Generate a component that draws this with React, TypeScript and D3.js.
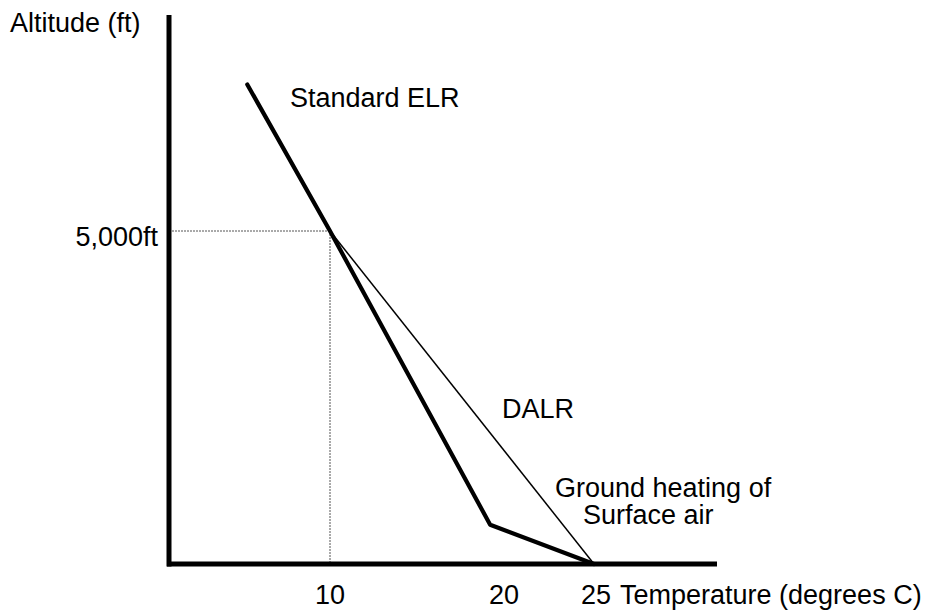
import React from "react";
import * as d3 from "d3";

// ---- data ----
const elrTemps = [5.3, 10, 19.1, 25];
const elrAlts = [7200, 5000, 590, 0];
const dalrTemps = [10, 25];
const dalrAlts = [5000, 0];
const xTickValues = [10, 20, 25];
const xTickLabels = ["10", "20", "25"];
const yTickValues = [5000];
const yTickLabels = ["5,000ft"];
const refTemp = 10;
const refAlt = 5000;
const labelTexts = ["Standard ELR", "DALR", "Ground heating of", "Surface air"];

const W = 926;
const H = 611;
const FONT = "'Liberation Sans', Arial, Helvetica, sans-serif";
const FS = 27;

export default function App() {
  const x = d3.scaleLinear().domain([10, 25]).range([330, 594]);
  const y = d3.scaleLinear().domain([0, 5000]).range([564, 231]);

  const xAxisStart = 167;
  const xAxisEnd = 717;
  const yAxisX = 169;
  const yAxisTop = 15;
  const yAxisBottom = 566.5;

  const line = d3
    .line<[number, number]>()
    .x((d) => x(d[0]))
    .y((d) => y(d[1]));

  const elr = line(elrTemps.map((t, i) => [t, elrAlts[i]] as [number, number])) || "";
  const dalr = line(dalrTemps.map((t, i) => [t, dalrAlts[i]] as [number, number])) || "";

  const labelPos = [
    { x: 290, y: 107 },
    { x: 502, y: 418 },
    { x: 555, y: 497 },
    { x: 583, y: 524 },
  ];

  return (
    <svg
      width={W}
      height={H}
      style={{ position: "absolute", left: 0, top: 0, background: "#fff" }}
      fontFamily={FONT}
      fontSize={FS}
    >
      <rect width={W} height={H} fill="#fff" />
      {/* reference dotted lines */}
      <line
        x1={yAxisX}
        x2={x(refTemp)}
        y1={y(refAlt)}
        y2={y(refAlt)}
        stroke="#555"
        strokeWidth={1}
        strokeDasharray="2,1"
      />
      <line
        x1={x(refTemp)}
        x2={x(refTemp)}
        y1={y(refAlt)}
        y2={y(0)}
        stroke="#555"
        strokeWidth={1}
        strokeDasharray="2,1"
      />
      {/* DALR thin line */}
      <path d={dalr} fill="none" stroke="#000" strokeWidth={1.5} />
      {/* ELR thick line */}
      <path d={elr} fill="none" stroke="#000" strokeWidth={4.2} strokeLinejoin="round" strokeLinecap="round" />
      {/* axes */}
      <line x1={yAxisX} x2={yAxisX} y1={yAxisTop} y2={yAxisBottom} stroke="#000" strokeWidth={5} />
      <line x1={xAxisStart} x2={xAxisEnd} y1={y(0)} y2={y(0)} stroke="#000" strokeWidth={5} />

      {/* axis titles */}
      <text x={10} y={32} fill="#000">Altitude (ft)</text>
      <text x={620} y={604} fill="#000">Temperature (degrees C)</text>

      {/* y tick labels */}
      {yTickValues.map((v, i) => (
        <text key={"y" + i} x={158} y={y(v) + 14.5} textAnchor="end" fill="#000">
          {yTickLabels[i]}
        </text>
      ))}
      {/* x tick labels */}
      {xTickValues.map((v, i) => (
        <text key={"x" + i} x={x(v) + (i === 2 ? 2 : i === 1 ? -2 : 0)} y={604} textAnchor="middle" fill="#000">
          {xTickLabels[i]}
        </text>
      ))}

      {/* annotations */}
      {labelTexts.map((t, i) => (
        <text key={"l" + i} x={labelPos[i].x} y={labelPos[i].y} fill="#000">
          {t}
        </text>
      ))}
    </svg>
  );
}
